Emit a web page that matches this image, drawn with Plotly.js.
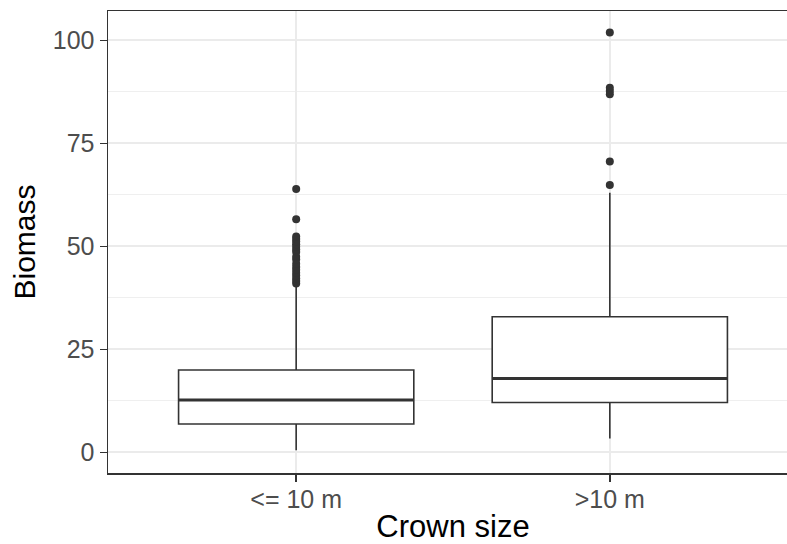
<!DOCTYPE html>
<html>
<head>
<meta charset="utf-8">
<script src="https://cdn.plot.ly/plotly-3.0.1.min.js"></script>
<style>
  html, body { margin: 0; padding: 0; overflow: hidden; background: #fff; }
  #chart { width: 800px; height: 544px; }
</style>
</head>
<body>
<div id="chart"></div>
<script>
// ---- data ----
const categories = ["<= 10 m", ">10 m"];
const q1 = [6.9, 12.1];
const median = [12.7, 17.9];
const q3 = [20.0, 32.9];
const lowerWhisker = [0.5, 3.4];
const upperWhisker = [40.3, 63.0];
const outliersSmall = [41.0, 41.6, 42.2, 42.9, 43.6, 44.3, 45.0, 45.8, 46.8, 47.5,
                       48.6, 49.2, 49.9, 50.5, 51.2, 51.8, 52.4, 56.6, 63.9];
const outliersLarge = [64.9, 70.6, 86.9, 87.7, 88.5, 101.9];
const yTicks = [0, 25, 50, 75, 100];

// ---- build traces ----
const positions = categories.map((c, i) => i + 1);
const boxWidth = 0.75;
const dark = "#333333";

const boxTrace = {
  type: "box",
  x: positions,
  q1: q1,
  median: median,
  q3: q3,
  lowerfence: lowerWhisker,
  upperfence: upperWhisker,
  width: boxWidth,
  whiskerwidth: 0,
  boxpoints: false,
  fillcolor: "#ffffff",
  line: { color: dark, width: 1.6 },
  hoverinfo: "skip",
  showlegend: false
};

// thicker median line (ggplot fatten)
const medX = [], medY = [];
positions.forEach((p, i) => {
  medX.push(p - boxWidth / 2, p + boxWidth / 2, null);
  medY.push(median[i], median[i], null);
});
const medianTrace = {
  type: "scatter", mode: "lines", x: medX, y: medY,
  line: { color: dark, width: 3 }, hoverinfo: "skip", showlegend: false
};

const outGroups = [outliersSmall, outliersLarge];
const outX = [], outY = [];
outGroups.forEach((g, i) => g.forEach(v => { outX.push(positions[i]); outY.push(v); }));
const outlierTrace = {
  type: "scatter", mode: "markers", x: outX, y: outY,
  marker: { color: dark, size: 8, line: { width: 0 } },
  hoverinfo: "skip", showlegend: false
};

const layout = {
  width: 800, height: 544,
  margin: { l: 108, r: 2, t: 11, b: 71 },
  paper_bgcolor: "#ffffff",
  plot_bgcolor: "#ffffff",
  font: { family: "Liberation Sans, Arial, sans-serif", color: "#000000" },
  showlegend: false,
  xaxis: {
    range: [0.4, 2.6],
    tickmode: "array",
    tickvals: positions,
    ticktext: categories,
    ticks: "outside", ticklen: 7, tickwidth: 1.5, tickcolor: dark,
    ticklabelstandoff: -4,
    tickfont: { size: 25, color: "#4D4D4D" },
    showgrid: true, gridcolor: "#EBEBEB", gridwidth: 2,
    zeroline: false,
    showline: true, linecolor: dark, linewidth: 1.5, mirror: true,
    title: { text: "Crown size", font: { size: 31, color: "#000000" }, standoff: 6 },
    automargin: false
  },
  yaxis: {
    range: [-5.0, 107.1],
    tickmode: "array",
    tickvals: yTicks,
    ticks: "outside", ticklen: 7, tickwidth: 1.5, tickcolor: dark,
    tickfont: { size: 25, color: "#4D4D4D" },
    showgrid: true, gridcolor: "#EBEBEB", gridwidth: 2,
    minor: { dtick: 12.5, tick0: 12.5, showgrid: true, gridcolor: "#EFEFEF", gridwidth: 1.2, ticks: "" },
    zeroline: false,
    showline: true, linecolor: dark, linewidth: 1.5, mirror: true,
    title: { text: "Biomass", font: { size: 30, color: "#000000" }, standoff: 8 },
    automargin: false
  }
};

Plotly.newPlot("chart", [boxTrace, medianTrace, outlierTrace], layout, { staticPlot: true, displayModeBar: false });
</script>
</body>
</html>
